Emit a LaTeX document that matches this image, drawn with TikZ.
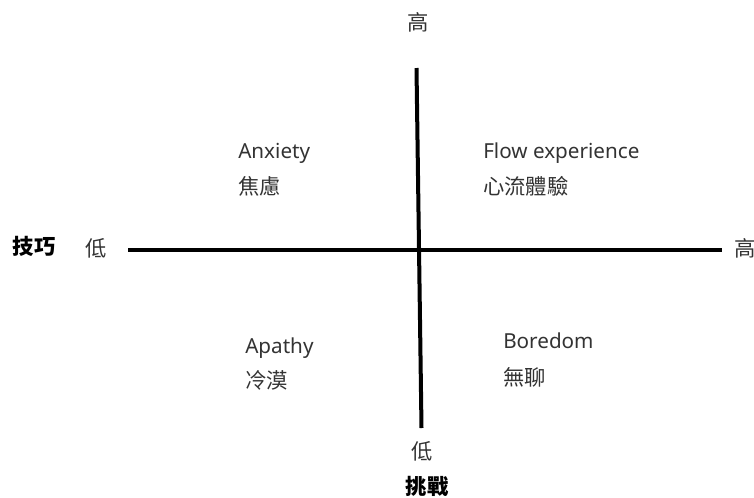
\documentclass[tikz,border=0pt]{standalone}
\usepackage{fontspec}
\setmainfont{Noto Sans}
\newfontfamily\cjk{Noto Sans CJK TC}
\definecolor{txt}{HTML}{333333}
\begin{document}
\begin{tikzpicture}[x=0.75pt,y=-0.75pt,
  axisline/.style={line width=3pt,black},
  lbl/.style={inner sep=0pt,text=txt,font=\fontsize{15.5}{18}\selectfont},
  zh/.style={inner sep=0pt,text=txt,font=\cjk\fontsize{16}{18}\selectfont},
  zhb/.style={inner sep=0pt,text=black,font=\cjk\fontsize{16}{18}\selectfont\bfseries}]
\useasboundingbox (0,0) rectangle (754,497);
% axes
\coordinate (hl) at (128,250);
\coordinate (hr) at (722,250);
\coordinate (vt) at (416.5,68);
\coordinate (vb) at (421.5,428);
\draw[axisline] (hl) -- (hr);
\draw[axisline] (vt) -- (vb);
% axis labels
\node[zh] (tophigh) at (418.5,22) {高};
\node[zh] (botlow) at (422,451) {低};
\node[zhb] (chal) at (427,486) {\textbf{挑戰}};
\node[zhb] (skill) at (34,246) {\textbf{技巧}};
\node[zh] (leftlow) at (96.5,248) {低};
\node[zh] (righthigh) at (745,248) {高};
% quadrants
\node[lbl,anchor=base west] (anx) at (238,158) {Anxiety};
\node[zh,anchor=west] (anxzh) at (238,186) {焦慮};
\node[lbl,anchor=base west] (flow) at (483,158) {Flow experience};
\node[zh,anchor=west] (flowzh) at (483,186) {心流體驗};
\node[lbl,anchor=base west] (apa) at (245,353) {Apathy};
\node[zh,anchor=west] (apazh) at (245,380) {冷漠};
\node[lbl,anchor=base west] (bor) at (503,348) {Boredom};
\node[zh,anchor=west] (borzh) at (503,377) {無聊};
\end{tikzpicture}
\end{document}
